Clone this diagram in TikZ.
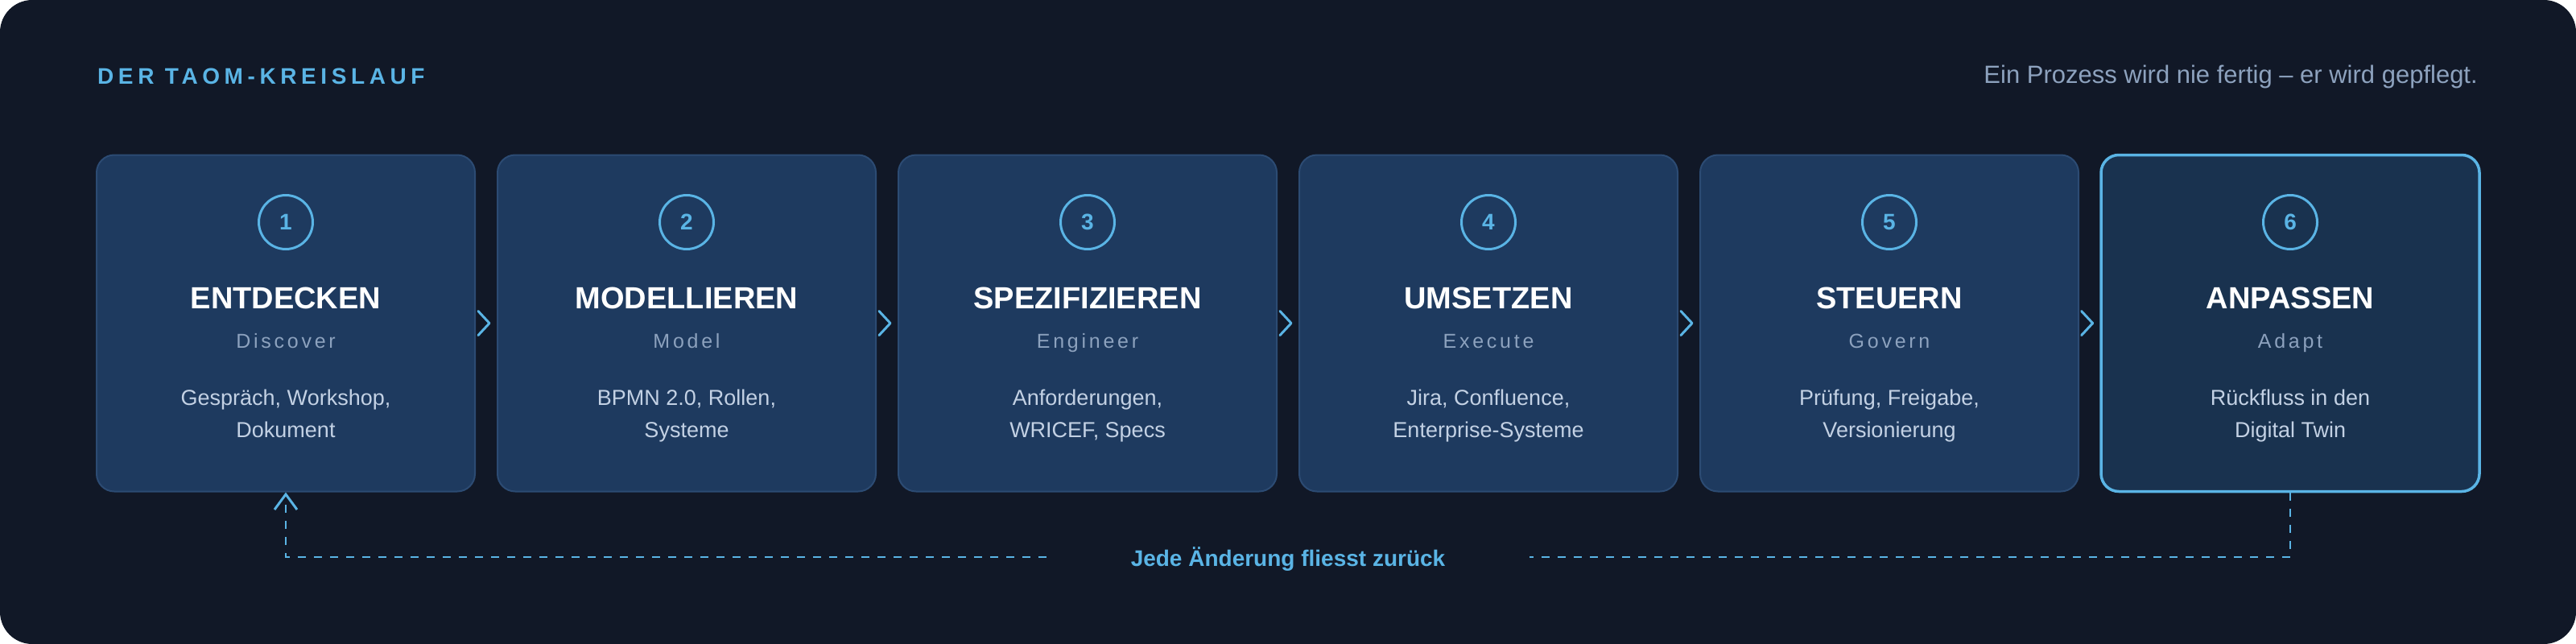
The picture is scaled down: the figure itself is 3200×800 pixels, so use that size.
\documentclass[tikz,border=0pt]{standalone}
\usepackage{fontspec}
\setmainfont{Liberation Sans}
\newfontfamily\spacedfont[LetterSpace=20]{Liberation Sans}
\newfontfamily\subfont[LetterSpace=15]{Liberation Sans}
\usetikzlibrary{arrows.meta,calc}
\definecolor{bg}{HTML}{111827}
\definecolor{boxfill}{HTML}{1E3A5F}
\definecolor{boxline}{HTML}{2C4B73}
\definecolor{hlfill}{HTML}{19324F}
\definecolor{accent}{HTML}{5AB4E5}
\definecolor{muted}{HTML}{8DA2BE}
\definecolor{desc}{HTML}{C3D1E4}
\newcommand\drawstage[7]{%
  \node[#7] (b#1) at (#2,401.5) {};
  \node[numcircle] (n#1) at (#2,276) {#1};
  \node[stagetitle] (t#1) at (#2,383) {#3};
  \node[stagesub] (s#1) at (#2,432) {#4};
  \node[desctext] (da#1) at (#2,503) {#5};
  \node[desctext] (db#1) at (#2,543) {#6};
}
\newcommand\drawchev[2]{%
  \coordinate (c#1#2) at ($(b#1.east)!0.5!(b#2.west)$);
  \draw[chev] ($(c#1#2)+(-10,-15)$) -- ($(c#1#2)+(4,0)$) -- ($(c#1#2)+(-10,15)$);
}
\begin{document}
\begin{tikzpicture}[x=1pt,y=-1pt,
  stagebox/.style={draw=boxline, line width=2pt, fill=boxfill, rounded corners=22pt,
    minimum width=470pt, minimum height=418pt, inner sep=0pt},
  hlstage/.style={stagebox, draw=accent, line width=3.5pt, fill=hlfill},
  numcircle/.style={circle, draw=accent, line width=3pt, minimum size=67pt, inner sep=0pt,
    text=accent, font=\bfseries\fontsize{28}{34}\selectfont},
  stagetitle/.style={anchor=base, text=white, inner sep=0pt, font=\bfseries\fontsize{38}{46}\selectfont},
  stagesub/.style={anchor=base, text=muted, inner sep=0pt, font=\subfont\fontsize{25}{30}\selectfont},
  desctext/.style={anchor=base, text=desc, inner sep=0pt, font=\fontsize{27}{32}\selectfont},
  chev/.style={draw=accent, line width=3pt, line cap=round, line join=round},
  loopline/.style={draw=accent, line width=2.5pt, dash pattern=on 10pt off 10pt},
]
\useasboundingbox (0,0) rectangle (3200,800);
\fill[bg, rounded corners=40pt] (0,0) rectangle (3200,800);

\node[anchor=base west, text=accent, inner sep=0pt,
  font=\spacedfont\bfseries\fontsize{28}{34}\selectfont] (hdr) at (121,104) {DER TAOM-KREISLAUF};
\node[anchor=base east, text=muted, inner sep=0pt,
  font=\fontsize{31}{37}\selectfont] (tag) at (3078,103) {Ein Prozess wird nie fertig – er wird gepflegt.};

\drawstage{1}{355}{ENTDECKEN}{Discover}{Gespräch, Workshop,}{Dokument}{stagebox}
\drawstage{2}{853}{MODELLIEREN}{Model}{BPMN 2.0, Rollen,}{Systeme}{stagebox}
\drawstage{3}{1351}{SPEZIFIZIEREN}{Engineer}{Anforderungen,}{WRICEF, Specs}{stagebox}
\drawstage{4}{1849}{UMSETZEN}{Execute}{Jira, Confluence,}{Enterprise-Systeme}{stagebox}
\drawstage{5}{2347}{STEUERN}{Govern}{Prüfung, Freigabe,}{Versionierung}{stagebox}
\drawstage{6}{2845}{ANPASSEN}{Adapt}{Rückfluss in den}{Digital Twin}{hlstage}

\drawchev{1}{2}
\drawchev{2}{3}
\drawchev{3}{4}
\drawchev{4}{5}
\drawchev{5}{6}

\node[anchor=base, text=accent, inner sep=0pt, font=\bfseries\fontsize{28}{34}\selectfont]
  (lbl) at (1600,703) {Jede Änderung fliesst zurück};
\coordinate (lL) at (1300,692);
\coordinate (lR) at (1900,692);
\draw[loopline] (b6.south) -- (b6.south |- lR) -- (lR);
\draw[loopline, -{Straight Barb[length=19pt,width=28pt,line width=3pt]}]
  (lL) -- (lL -| b1.south) -- (b1.south);
\end{tikzpicture}
\end{document}
